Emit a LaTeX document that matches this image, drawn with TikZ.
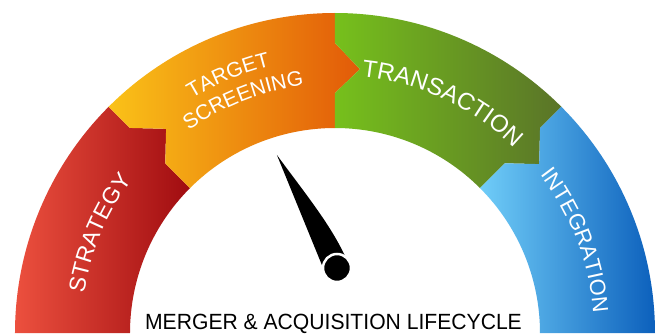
\documentclass[tikz,border=0pt]{standalone}
\usepackage{fontspec}
\setmainfont{Liberation Sans}
\usetikzlibrary{decorations.text}

\definecolor{strategyL}{RGB}{236,80,62}
\definecolor{strategyR}{RGB}{160,12,16}
\definecolor{screenL}{RGB}{250,194,24}
\definecolor{screenR}{RGB}{226,90,8}
\definecolor{dealL}{RGB}{118,192,28}
\definecolor{dealR}{RGB}{90,116,40}
\definecolor{integL}{RGB}{112,205,248}
\definecolor{integR}{RGB}{12,96,188}

\begin{document}
\begin{tikzpicture}[
  x=1pt, y=1pt,
  arclabel/.style 2 args={decorate, decoration={text along path, text align=center,
    text color=white, text={|\fontsize{#1}{#1}\selectfont|#2}}},
  hub/.style={fill=black, draw=white, line width=2.5pt}]
\path[use as bounding box, fill=white] (-335,0) rectangle (327,333);

% arrow tips between the phases
\foreach \b in {135,90,45}{
  \coordinate (o\b) at (\b:290pt);
  \coordinate (t\b) at ({\b-5.4}:265pt);
  \coordinate (i\b) at (\b:240pt);
}

\shade[left color=strategyL, right color=strategyR]
  (180:320pt) arc[start angle=180, end angle=135, radius=320pt]
  -- (o135) -- (t135) -- (i135)
  -- (135:205pt) arc[start angle=135, end angle=180, radius=205pt] -- cycle;
\shade[left color=screenL, right color=screenR]
  (135:320pt) arc[start angle=135, end angle=90, radius=320pt]
  -- (o90) -- (t90) -- (i90)
  -- (90:205pt) arc[start angle=90, end angle=135, radius=205pt]
  -- (i135) -- (t135) -- (o135) -- cycle;
\shade[left color=dealL, right color=dealR]
  (90:320pt) arc[start angle=90, end angle=45, radius=320pt]
  -- (o45) -- (t45) -- (i45)
  -- (45:205pt) arc[start angle=45, end angle=90, radius=205pt]
  -- (i90) -- (t90) -- (o90) -- cycle;
\shade[left color=integL, right color=integR]
  (45:320pt) arc[start angle=45, end angle=0, radius=320pt]
  -- (0:205pt) arc[start angle=0, end angle=45, radius=205pt]
  -- (i45) -- (t45) -- (o45) -- cycle;

\path[arclabel={23}{STRATEGY}] (197:254pt) arc[start angle=197, end angle=117, radius=254pt];
\path[arclabel={21}{TARGET}] (152.5:274.5pt) arc[start angle=152.5, end angle=72.5, radius=274.5pt];
\path[arclabel={21}{SCREENING}] (151.5:249.5pt) arc[start angle=151.5, end angle=71.5, radius=249.5pt];
\path[arclabel={24}{TRANSACTION}] (105:258pt) arc[start angle=105, end angle=25, radius=258pt];
\path[arclabel={22}{INTEGRATION}] (61:259pt) arc[start angle=61, end angle=-19, radius=259pt];

% needle
\coordinate (pivot) at (2,65);
\begin{scope}[shift={(pivot)}, rotate=28]
  \fill (-12.5,4) -- (0,128) .. controls (7,80) and (15,40) .. (12.5,4) -- cycle;
\end{scope}
\path[hub] (pivot) circle[radius=14pt];

\node[font=\fontsize{22}{22}\selectfont, xscale=0.96, anchor=base] (title) at (-1.5,4)
  {MERGER \& ACQUISITION LIFECYCLE};
\end{tikzpicture}
\end{document}
